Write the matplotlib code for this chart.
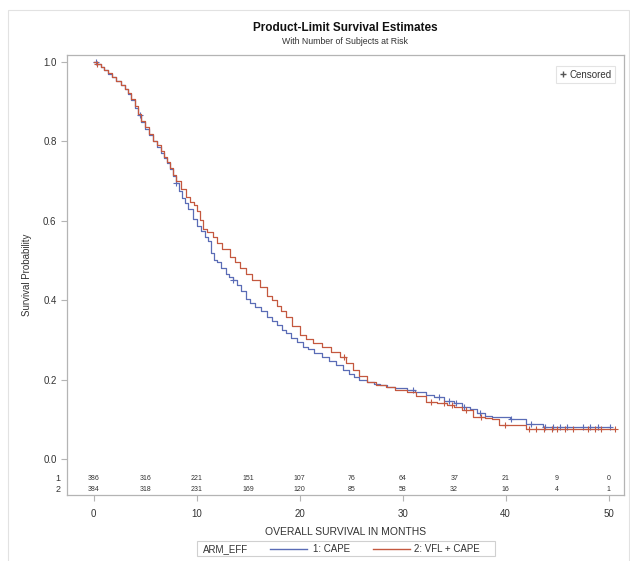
import matplotlib
matplotlib.use("Agg")
import matplotlib.pyplot as plt
import numpy as np
from matplotlib.lines import Line2D
from matplotlib.patches import Rectangle

plt.rcParams['font.family'] = ['Liberation Sans', 'DejaVu Sans']

# arm 1: CAPE
t_cape = [0, 0.3, 0.7, 1.0, 1.4, 1.8, 2.2, 2.6, 3.0, 3.3,
          3.6, 4.0, 4.3, 4.6, 5.0, 5.4, 5.8, 6.1, 6.5, 6.8,
          7.1, 7.4, 7.7, 8.0, 8.3, 8.6, 8.9, 9.2, 9.6, 10.0,
          10.4, 10.8, 11.1, 11.4, 11.7, 12.0, 12.4, 12.8, 13.1, 13.5,
          13.9, 14.3, 14.8, 15.2, 15.7, 16.2, 16.8, 17.3, 17.8, 18.3,
          18.7, 19.2, 19.7, 20.3, 20.8, 21.4, 22.2, 22.8, 23.5, 24.2,
          24.8, 25.3, 25.8, 26.5, 27.2, 27.8, 28.5, 29.3, 30.4, 31.2,
          32.3, 33.0, 34.0, 35.0, 35.8, 36.5, 37.2, 38.0, 38.7, 40.4,
          42.0, 43.6]
s_cape = [1.0, .995, .987, .98, .97, .962, .952, .942, .932, .92,
          .905, .885, .866, .849, .83, .815, .8, .786, .77, .757,
          .745, .73, .712, .695, .675, .658, .645, .63, .605, .588,
          .575, .56, .548, .52, .502, .495, .48, .466, .458, .451,
          .438, .422, .403, .393, .382, .372, .358, .347, .338, .325,
          .317, .305, .295, .282, .276, .268, .257, .247, .237, .224,
          .214, .207, .199, .195, .19, .186, .182, .178, .174, .17,
          .16, .155, .145, .14, .132, .125, .115, .108, .105, .1,
          .088, .08]
end_cape = 50.1
cens_cape = [0.2, 4.5, 8.0, 13.5, 31.0, 33.5, 34.5, 35.2, 36.0, 37.5,
             40.5, 42.5, 43.8, 44.6, 45.3, 46.0, 47.5, 48.2, 49.0, 50.1]

# arm 2: VFL + CAPE
t_vfl = [0, 0.3, 0.7, 1.0, 1.4, 1.8, 2.2, 2.6, 3.0, 3.3,
         3.6, 4.0, 4.3, 4.6, 5.0, 5.4, 5.8, 6.1, 6.5, 6.8,
         7.1, 7.4, 7.7, 8.0, 8.5, 9.0, 9.3, 9.7, 10.0, 10.3,
         10.6, 11.0, 11.6, 12.0, 12.5, 13.2, 13.7, 14.2, 14.8, 15.4,
         16.1, 16.8, 17.3, 17.8, 18.2, 18.7, 19.3, 20.0, 20.6, 21.3,
         22.2, 23.0, 23.9, 24.5, 25.2, 25.8, 26.5, 27.4, 28.4, 29.3,
         30.4, 31.3, 32.3, 33.3, 34.3, 35.0, 35.8, 36.8, 38.0, 38.7,
         39.4, 42.0]
s_vfl = [1.0, .995, .988, .98, .972, .963, .953, .943, .933, .922,
         .908, .888, .87, .852, .835, .818, .802, .79, .775, .76,
         .748, .733, .715, .7, .68, .66, .648, .64, .625, .602,
         .58, .572, .56, .545, .528, .51, .495, .48, .465, .45,
         .433, .41, .4, .385, .372, .358, .335, .312, .302, .293,
         .282, .27, .257, .243, .224, .21, .194, .187, .181, .175,
         .169, .158, .144, .14, .136, .13, .123, .106, .102, .1,
         .086, .075]
end_vfl = 50.6
cens_vfl = [0.3, 24.3, 32.8, 34.0, 34.8, 36.2, 37.6, 39.9, 42.3, 43.0,
            43.7, 44.5, 45.0, 45.8, 46.5, 48.0, 48.7, 49.3, 50.6]

risk_times = [0, 5, 10, 15, 20, 25, 30, 35, 40, 45, 50]
risk_cape = [386, 316, 221, 151, 107, 76, 64, 37, 21, 9, 0]
risk_vfl = [384, 318, 231, 169, 120, 85, 58, 32, 16, 4, 1]

blue = '#5a6cb6'
red = '#c4583f'
grey = '#b4b4b4'
txt = '#333333'

fig = plt.figure(figsize=(6.3, 5.61), dpi=100)
ax = fig.add_axes([67/630, 1-495/561, (624-67)/630, (495-55)/561])


def km(ax, t, s, end, cens, color):
    tt = list(t) + [end]
    ss = list(s) + [s[-1]]
    ax.plot(tt, ss, drawstyle='steps-post', color=color, lw=0.9)
    idx = np.searchsorted(tt, cens, side='right') - 1
    cy = np.array(ss)[idx]
    ax.plot(cens, cy, '+', color=color, ms=4, mew=0.8)


km(ax, t_cape, s_cape, end_cape, cens_cape, blue)
km(ax, t_vfl, s_vfl, end_vfl, cens_vfl, red)

ax.set_xlim(-2.6, 51.5)
ax.set_ylim(-0.0907, 1.0176)
ax.set_yticks(np.arange(0, 1.01, 0.2))
ax.set_yticklabels(['%.1f' % v for v in np.arange(0, 1.01, 0.2)])
ax.set_xticks([0, 10, 20, 30, 40, 50])
for sp in ax.spines.values():
    sp.set_color(grey)
    sp.set_linewidth(0.9)
ax.tick_params(colors=grey, labelcolor=txt, labelsize=7, length=4, width=0.8)
ax.tick_params(axis='x', pad=6)

# numbers at risk, inside the frame
for tm, a, b in zip(risk_times, risk_cape, risk_vfl):
    ax.text(tm, -0.048, str(a), fontsize=5, ha='center', va='center', color=txt)
    ax.text(tm, -0.078, str(b), fontsize=5, ha='center', va='center', color=txt)
tr = ax.get_yaxis_transform()
ax.text(-0.012, -0.048, '1', transform=tr, fontsize=6.5, ha='right', va='center', color=txt)
ax.text(-0.012, -0.078, '2', transform=tr, fontsize=6.5, ha='right', va='center', color=txt)

ax.set_ylabel('Survival Probability', fontsize=7, color=txt, labelpad=8)
ax.set_xlabel('OVERALL SURVIVAL IN MONTHS', fontsize=7.5, color=txt, labelpad=6)

ax.set_title('Product-Limit Survival Estimates', fontsize=8.5, fontweight='bold',
             color='#111111', pad=17)
fig.text(345/630, 1-41/561, 'With Number of Subjects at Risk', fontsize=6.3,
         ha='center', va='center', color=txt)

# censored legend
leg = ax.legend([Line2D([], [], ls='none', marker='+', color='#555555', ms=4)],
                ['Censored'], loc='upper right', fontsize=7, frameon=True,
                fancybox=False, handlelength=0.8, handletextpad=0.3,
                borderpad=0.35, bbox_to_anchor=(0.993, 0.985))
leg.get_frame().set_edgecolor('#dddddd')
leg.get_frame().set_linewidth(0.8)
for t in leg.get_texts():
    t.set_color(txt)

# group legend at bottom
fig.patches.append(Rectangle((197/630, 1-556/561), 298/630, 15/561,
                             transform=fig.transFigure, fill=False,
                             ec='#d0d0d0', lw=0.8))
ly = 1-549/561
fig.text(203/630, ly, 'ARM_EFF', fontsize=7, va='center', color=txt)
fig.add_artist(Line2D([270/630, 307/630], [ly, ly], color=blue, lw=1.0, transform=fig.transFigure))
fig.text(313/630, ly, '1: CAPE', fontsize=7, va='center', color=txt)
fig.add_artist(Line2D([373/630, 410/630], [ly, ly], color=red, lw=1.0, transform=fig.transFigure))
fig.text(414/630, ly, '2: VFL + CAPE', fontsize=7, va='center', color=txt)

# outer graph border
fig.patches.append(Rectangle((8/630, -0.01), 621/630, 1-10/561+0.01,
                             transform=fig.transFigure, fill=False,
                             ec='#e2e2e2', lw=0.8))

fig.savefig('out.png', dpi=100)
